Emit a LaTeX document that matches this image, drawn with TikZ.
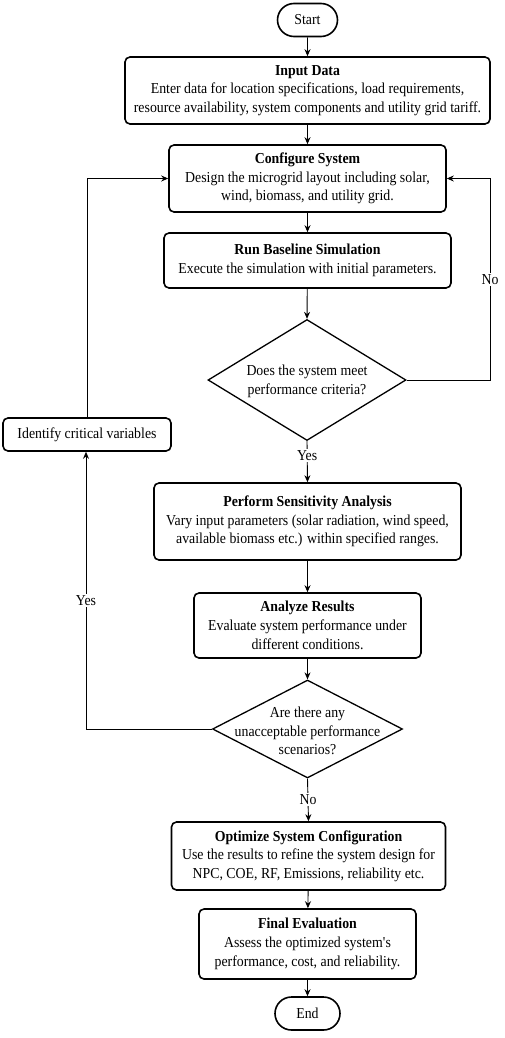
\documentclass[tikz,border=0pt]{standalone}
\usepackage{fontspec}
\setmainfont{Liberation Serif}[FakeStretch=0.91]
\usetikzlibrary{shapes.geometric,shapes.misc,arrows.meta}
\begin{document}
\begin{tikzpicture}[x=1pt,y=-1pt,
  every node/.style={font=\fontsize{15.2}{18.7}\selectfont},
  proc/.style={draw, line width=1.6pt, rounded corners=5pt, align=center, inner sep=0pt},
  term/.style={draw, line width=1.6pt, rounded rectangle, inner sep=0pt},
  dec/.style={draw, line width=1.3pt, diamond, inner sep=0pt},
  conn/.style={line width=0.9pt, -{Stealth[length=7pt,width=6pt]}},
  lab/.style={fill=white, inner sep=1.5pt}]
\useasboundingbox (0,0) rectangle (505,1038);

\node[term, minimum width=60pt, minimum height=33pt] (start) at (307.5,20) {Start};
\node[proc, minimum width=365pt, minimum height=67pt] (input) at (307.5,90.5)
  {\textbf{Input Data}\\Enter data for location specifications, load requirements,\\resource availability, system components and utility grid tariff.};
\node[proc, minimum width=277pt, minimum height=67pt] (config) at (307.5,178.5)
  {\textbf{Configure System}\\Design the microgrid layout including solar,\\wind, biomass, and utility grid.};
\node[proc, minimum width=287pt, minimum height=55pt] (base) at (307.5,260.5)
  {\textbf{Run Baseline Simulation}\\Execute the simulation with initial parameters.};
\node[dec, minimum width=198pt, minimum height=121pt] (d1) at (307,380) {};
\node[align=center] (d1t) at (307,381) {Does the system meet\\performance criteria?};
\node[proc, minimum width=168pt, minimum height=33pt] (ident) at (87,434.5) {Identify critical variables};
\node[proc, minimum width=307pt, minimum height=77pt] (sens) at (307.5,521.5)
  {\textbf{Perform Sensitivity Analysis}\\Vary input parameters (solar radiation, wind speed,\\available biomass etc.) within specified ranges.};
\node[proc, minimum width=227pt, minimum height=65pt] (anal) at (307.5,625.5)
  {\textbf{Analyze Results}\\Evaluate system performance under\\different conditions.};
\node[dec, minimum width=190pt, minimum height=98pt] (d2) at (307.5,729) {};
\node[align=center] (d2t) at (307.5,731) {Are there any\\unacceptable performance\\scenarios?};
\node[proc, minimum width=274pt, minimum height=68pt] (opt) at (308.5,856)
  {\textbf{Optimize System Configuration}\\Use the results to refine the system design for\\NPC, COE, RF, Emissions, reliability etc.};
\node[proc, minimum width=217pt, minimum height=70pt] (final) at (307.5,944)
  {\textbf{Final Evaluation}\\Assess the optimized system\textquotesingle s\\performance, cost, and reliability.};
\node[term, minimum width=65pt, minimum height=33pt] (end) at (307.5,1013.5) {End};

\coordinate (rc) at (490,380);
\coordinate (lc) at (86,729);

\draw[conn] (start) -- (input);
\draw[conn] (input) -- (config);
\draw[conn] (config) -- (base);
\draw[conn] (base) -- (d1.north);
\draw[conn] (d1.east) -- (rc) |- node[lab, pos=0.25] {No} (config.east);
\draw[conn] (d1.south) -- node[lab, pos=0.35] {Yes} (sens.north);
\draw[conn] (sens) -- (anal);
\draw[conn] (anal) -- (d2.north);
\draw[conn] (d2.west) -- (lc) -- node[lab, pos=0.464] {Yes} (lc |- ident.south);
\draw[conn] (ident.north) |- (config.west);
\draw[conn] (d2.south) -- node[lab, pos=0.5] {No} (opt.north);
\draw[conn] (opt) -- (final);
\draw[conn] (final) -- (end);
\end{tikzpicture}
\end{document}
